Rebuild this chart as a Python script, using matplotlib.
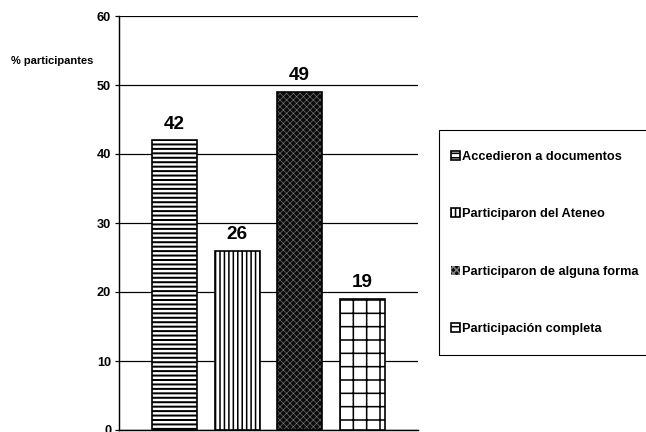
import matplotlib.pyplot as plt
from matplotlib.patches import Rectangle

plt.rcParams['font.family'] = ['Liberation Sans', 'DejaVu Sans']

# porcentaje de participantes por tipo de participación
categorias = ['Accedieron a documentos', 'Participaron del Ateneo',
              'Participaron de alguna forma', 'Participación completa']
valores = [42, 26, 49, 19]
tramas = ['---', '|||', 'xxxx', '+']

fig = plt.figure(figsize=(646 / 80, 432 / 80), dpi=80)
ax = fig.add_axes([119 / 646, 2 / 432, 299 / 646, 414 / 432])

barras = []
for i, (v, h) in enumerate(zip(valores, tramas)):
    if h == 'xxxx':
        # trama oscura con cruces claras
        plt.rcParams['hatch.linewidth'] = 0.5
        b = ax.bar(i, v, width=0.72, color='#0c0c0c', edgecolor='#808080',
                   hatch=h, linewidth=0, label=categorias[i], zorder=3)
        ax.bar(i, v, width=0.72, fill=False, edgecolor='black', linewidth=1.5, zorder=4)
    else:
        plt.rcParams['hatch.linewidth'] = 1.8 if h == '---' else 1.4
        b = ax.bar(i, v, width=0.72, color='white', edgecolor='black',
                   hatch=h, linewidth=1.5, label=categorias[i], zorder=3)
    barras.append(b)
    ax.text(i, v + 1.1, str(v), ha='center', va='bottom', fontsize=17,
            fontweight='bold')

ax.set_xlim(-0.888, 3.896)
ax.set_ylim(0, 60)
ax.set_yticks(range(0, 61, 10))
ax.set_xticks([])
ax.yaxis.grid(True, color='black', linewidth=1.1, zorder=0)
ax.set_axisbelow(True)
for s in ['top', 'right']:
    ax.spines[s].set_visible(False)
ax.spines['left'].set_linewidth(1.3)
ax.spines['bottom'].set_linewidth(1.3)
ax.tick_params(axis='y', length=4, width=1.1, pad=3)
for t in ax.get_yticklabels():
    t.set_fontweight('bold')
    t.set_fontsize(11.5)

fig.text(11 / 646, 1 - 61 / 432, '% participantes', fontsize=10,
         fontweight='bold', va='center', ha='left')

# marco de la leyenda
fig.patches.append(Rectangle((439 / 646, 1 - 355 / 432), 230 / 646, 225 / 432,
                             transform=fig.transFigure, fill=False,
                             edgecolor='black', linewidth=1.0))

leg = fig.legend(handles=barras, loc='center left',
                 bbox_to_anchor=(451 / 646, 1 - 243 / 432), borderaxespad=0,
                 fontsize=11.5, handlelength=0.7, handleheight=0.7,
                 handletextpad=0.15, labelspacing=3.55, borderpad=0,
                 frameon=False)
for t in leg.get_texts():
    t.set_fontweight('bold')

fig.savefig('out.png', dpi=80)
